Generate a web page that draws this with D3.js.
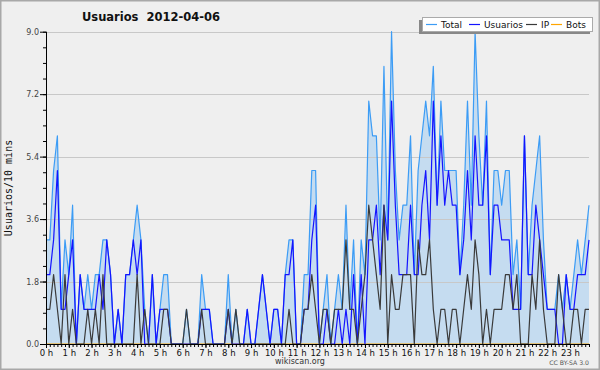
<!DOCTYPE html>
<html>
<head>
<meta charset="utf-8">
<script src="https://cdn.jsdelivr.net/npm/d3@7"></script>
<style>
body{margin:0;background:#efefef}
svg{display:block}
</style>
</head>
<body>
<svg id="chart" width="600" height="370" font-family="DejaVu Sans, sans-serif"></svg>
<script>
// valores cada 10 minutos, 144 puntos (0 h .. 23 h 50)
var total = [
 3,3,5,6,1,3,2,4,0,2,1,2,1,2,2,3,3,2,0,1,0,2,2,3,
 4,3,1,0,2,0,1,2,2,0,0,0,0,1,0,0,0,2,1,1,0,0,0,0,
 2,0,1,0,0,1,0,0,1,2,1,0,1,1,0,2,3,3,0,0,2,2,5,5,
 0,1,2,0,1,2,1,4,1,3,0,3,2,7,6,6,3,8,3,9,5,3,4,4,
 6,2,5,6,7,6,8,4,7,5,5,5,5,2,4,7,4,9,6,4,7,2,5,5,
 4,5,5,2,3,1,6,2,4,5,6,3,1,1,1,2,1,2,1,2,3,2,3,4];
var usuarios = [
 2,2,3,5,1,1,2,3,0,2,1,1,1,1,2,1,3,2,0,1,0,2,2,3,
 2,3,0,0,2,0,1,1,1,0,0,0,0,0,0,0,0,1,1,1,0,0,0,0,
 1,0,0,0,0,1,0,0,1,2,1,0,1,1,0,2,2,3,0,0,1,1,3,4,
 0,0,1,0,0,1,0,1,0,2,0,2,0,3,3,4,2,4,3,7,4,2,2,2,
 4,2,2,4,5,3,7,4,6,4,5,4,4,2,3,5,3,6,4,4,6,2,4,4,
 3,3,3,1,1,1,6,2,2,4,3,2,1,1,1,0,0,2,1,1,2,2,2,3];
var ip = [
 1,1,2,1,0,2,0,1,0,0,0,1,0,1,0,2,0,0,0,0,0,0,0,0,
 2,0,1,0,0,0,0,1,1,0,0,0,0,1,0,0,0,1,0,0,0,0,0,0,
 1,0,1,0,0,0,0,0,0,0,0,0,0,0,0,0,1,0,0,0,1,1,2,1,
 0,1,1,0,1,1,1,3,1,1,0,1,2,4,3,2,1,4,0,2,1,1,2,2,
 2,0,3,2,2,3,1,0,1,1,0,1,1,0,1,2,1,3,2,0,1,0,1,1,
 1,2,2,1,2,0,0,0,2,1,3,1,0,0,0,2,1,0,0,1,1,0,1,1];
var bots = [
 0,0,0,0,0,0,0,0,0,0,0,0,0,0,0,0,0,0,0,0,0,0,0,0,
 0,0,0,0,0,0,0,0,0,0,0,0,0,0,0,0,0,0,0,0,0,0,0,0,
 0,0,0,0,0,0,0,0,0,0,0,0,0,0,0,0,0,0,0,0,0,0,0,0,
 0,0,0,0,0,0,0,0,0,0,0,0,0,0,0,0,0,0,0,0,0,0,0,0,
 0,0,0,0,0,0,0,0,0,0,0,0,0,0,0,0,0,0,0,0,0,0,0,0,
 0,0,0,0,0,0,0,0,0,0,0,0,0,0,0,0,0,0,0,0,0,0,0,0];
var yTicks = [0, 1.8, 3.6, 5.4, 7.2, 9.0];
var hours = ["0 h","1 h","2 h","3 h","4 h","5 h","6 h","7 h","8 h","9 h","10 h","11 h",
             "12 h","13 h","14 h","15 h","16 h","17 h","18 h","19 h","20 h","21 h","22 h","23 h"];
var series = [
  {name:"Total", values:total, color:"#3c9cf5"},
  {name:"Usuarios", values:usuarios, color:"#1414ff"},
  {name:"IP", values:ip, color:"#3a3a3a"},
  {name:"Bots", values:bots, color:"#ffa500"}
];

var svg = d3.select("#chart");
var plotLeft = 46, plotRight = 589, plotTop = 31.7, plotBottom = 344;

svg.append("rect")
  .attr("x",0.75).attr("y",0.75).attr("width",598.5).attr("height",368.5)
  .attr("fill","#efefef").attr("stroke","#a8a8a8").attr("stroke-width",1.5);

var x = d3.scaleLinear().domain([0, total.length-1]).range([plotLeft, plotRight]);
var y = d3.scaleLinear().domain([0, 9]).range([plotBottom, plotTop]);

// area del total
svg.append("path")
  .datum(total)
  .attr("fill","#c5dcf0")
  .attr("d", d3.area().x(function(d,i){return x(i);}).y0(y(0)).y1(function(d){return y(d);}));

// rejilla
svg.append("g")
  .selectAll("line")
  .data(yTicks.slice(1))
  .enter()
  .append("line")
  .attr("x1",plotLeft).attr("x2",plotRight)
  .attr("y1",function(d){return Math.round(y(d))+0.5;}).attr("y2",function(d){return Math.round(y(d))+0.5;})
  .attr("stroke","#c8c8c8").attr("stroke-width",1);

var line = d3.line().x(function(d,i){return x(i);}).y(function(d){return y(d);});

// orden: bots, total, usuarios, ip
[series[3], series[0], series[1], series[2]].forEach(function(s){
  svg.append("path")
    .datum(s.values)
    .attr("fill","none")
    .attr("stroke",s.color)
    .attr("stroke-width",1.2)
    .attr("stroke-linejoin","round")
    .attr("d",line);
});

// eje y
var yMinor = svg.append("g")
  .attr("transform","translate("+plotLeft+",0)")
  .call(d3.axisLeft(y).tickValues(d3.range(0, 9.01, 0.45)).tickSize(3).tickFormat(""));
yMinor.select(".domain").remove();
var yAxis = svg.append("g")
  .attr("transform","translate("+plotLeft+",0)")
  .call(d3.axisLeft(y).tickValues(yTicks).tickSize(6).tickPadding(1).tickFormat(d3.format(".1f")));
yAxis.select(".domain").attr("d","M0.5,"+plotTop+"V"+plotBottom).attr("stroke","#000");
yAxis.selectAll("text").attr("font-size",8).attr("fill","#444").attr("font-family","DejaVu Sans");

// eje x
var xMinor = svg.append("g")
  .attr("transform","translate(0,"+plotBottom+")")
  .call(d3.axisBottom(x).tickValues(d3.range(0, total.length)).tickSize(3).tickFormat(""));
xMinor.select(".domain").remove();
var xAxis = svg.append("g")
  .attr("transform","translate(0,"+plotBottom+")")
  .call(d3.axisBottom(x).tickValues(d3.range(0, 144, 6)).tickSize(4).tickPadding(2)
        .tickFormat(function(d){return hours[d/6];}));
xAxis.select(".domain").attr("d","M"+plotLeft+",0.5H"+plotRight).attr("stroke","#000");
xAxis.selectAll("text").attr("font-size",8.5).attr("fill","#111").attr("font-family","DejaVu Sans");

// titulo
svg.append("text")
  .text("Usuarios  2012-04-06")
  .attr("x",151).attr("y",21)
  .attr("text-anchor","middle")
  .attr("font-size",11.5).attr("font-weight","bold")
  .attr("fill","#111")
  .style("white-space","pre");

svg.append("text")
  .text("Usuarios/10 mins")
  .attr("transform","translate(12,188) rotate(-90)")
  .attr("text-anchor","middle")
  .attr("font-size",10)
  .attr("font-family","DejaVu Sans Mono")
  .attr("fill","#111");

svg.append("text")
  .text("wikiscan.org")
  .attr("x",300).attr("y",364)
  .attr("text-anchor","middle")
  .attr("font-size",8).attr("fill","#333");

svg.append("text")
  .text("CC BY-SA 3.0")
  .attr("x",589).attr("y",365)
  .attr("text-anchor","end")
  .attr("font-size",6.2).attr("fill","#555");

// leyenda
var legend = svg.append("g").classed("legend",true);
legend.append("rect")
  .attr("x",419).attr("y",20).attr("width",171).attr("height",14)
  .attr("fill","#888");
legend.append("rect")
  .attr("x",422.5).attr("y",17.5).attr("width",170).attr("height",14)
  .attr("fill","#fff").attr("stroke","#aaa");
var legX = [426, 469, 526, 551];
series.forEach(function(s,k){
  legend.append("line")
    .attr("x1",legX[k]).attr("x2",legX[k]+11)
    .attr("y1",24.5).attr("y2",24.5)
    .attr("stroke",s.color).attr("stroke-width",1.2);
  legend.append("text")
    .text(s.name)
    .attr("x",legX[k]+15).attr("y",28)
    .attr("font-size",9).attr("fill","#111");
});
</script>
</body>
</html>
